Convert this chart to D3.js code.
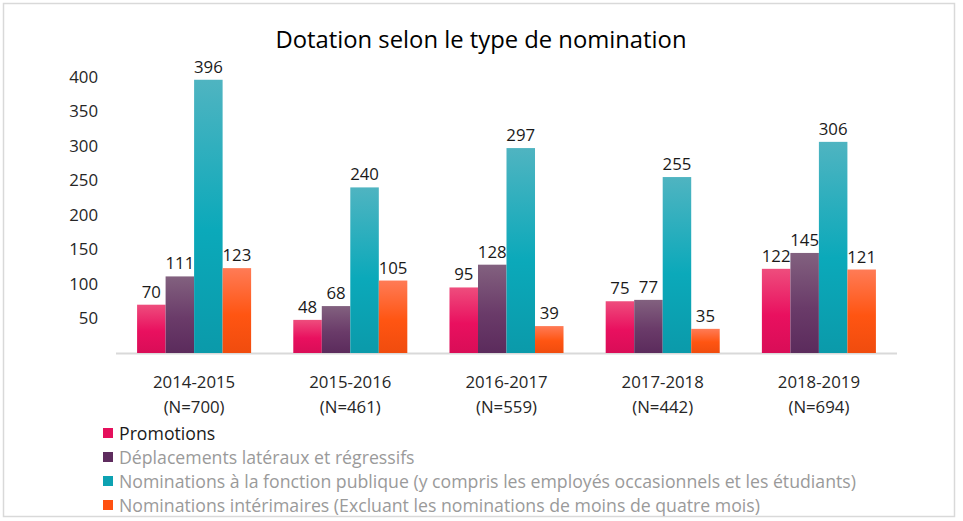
<!DOCTYPE html>
<html>
<head>
<meta charset="utf-8">
<script src="https://cdn.jsdelivr.net/npm/d3@7"></script>
<style>
  body { margin: 0; background: #fff; }
  svg { display: block; font-family: "Open Sans", "Noto Sans", sans-serif; }
</style>
</head>
<body>
<div id="chart"></div>
<script>
// data
var years = ["2014-2015", "2015-2016", "2016-2017", "2017-2018", "2018-2019"];
var totals = ["(N=700)", "(N=461)", "(N=559)", "(N=442)", "(N=694)"];
var series = [
  "Promotions",
  "Déplacements latéraux et régressifs",
  "Nominations à la fonction publique (y compris les employés occasionnels et les étudiants)",
  "Nominations intérimaires (Excluant les nominations de moins de quatre mois)"
];
var promotions = [70, 48, 95, 75, 122];
var deplacements = [111, 68, 128, 77, 145];
var fonctionPublique = [396, 240, 297, 255, 306];
var interimaires = [123, 105, 39, 35, 121];
var yTicks = [50, 100, 150, 200, 250, 300, 350, 400];

var values = [promotions, deplacements, fonctionPublique, interimaires];

// gradient stops per series: top, middle, bottom
var shades = [
  ["#ee4d7d", "#e9105f", "#d90d57"],
  ["#82617f", "#6a3b69", "#5b2b5c"],
  ["#4fb4c1", "#0ba9ba", "#0b9aaa"],
  ["#ff7b56", "#ff5512", "#f04c0e"]
];
var legendSquare = ["#e5105c", "#5e2c5e", "#0da2b2", "#ff5010"];

var width = 963, height = 521;
var margin = {top: 77, left: 116, right: 66, bottom: 168};

var svg = d3.select("#chart").append("svg")
    .attr("width", width)
    .attr("height", height);

// outer frame
svg.append("rect")
    .attr("x", 3.5).attr("y", 3.5)
    .attr("width", 951).attr("height", 513)
    .attr("fill", "#fff")
    .attr("stroke", "#d9d9d9")
    .attr("stroke-width", 1.5);

var defs = svg.append("defs");
shades.forEach(function(s, i) {
  var g = defs.append("linearGradient")
      .attr("id", "grad" + i)
      .attr("x1", 0).attr("y1", 0).attr("x2", 0).attr("y2", 1);
  g.append("stop").attr("offset", "0%").attr("stop-color", s[0]);
  g.append("stop").attr("offset", "55%").attr("stop-color", s[1]);
  g.append("stop").attr("offset", "100%").attr("stop-color", s[2]);
});

var x0 = d3.scaleBand()
    .domain(years)
    .range([margin.left, width - margin.right])
    .paddingInner(0.27)
    .paddingOuter(0.135);

var x1 = d3.scaleBand()
    .domain(d3.range(series.length))
    .range([0, x0.bandwidth()]);

var y = d3.scaleLinear()
    .domain([0, 400])
    .range([353, margin.top]);

// title
svg.append("text")
    .attr("x", 481).attr("y", 48)
    .attr("text-anchor", "middle")
    .style("font-size", "23.8px")
    .style("fill", "#000")
    .text("Dotation selon le type de nomination");

// y axis (labels only)
var yAxis = svg.append("g")
    .attr("transform", "translate(" + (margin.left - 18) + ",0)")
    .call(d3.axisLeft(y).tickValues(yTicks).tickSize(0).tickPadding(0));
yAxis.select(".domain").remove();
yAxis.selectAll("text")
    .style("font-size", "16.8px")
    .style("font-family", "'Open Sans', 'Noto Sans', sans-serif")
    .style("fill", "#262626");

// baseline
svg.append("line")
    .attr("x1", margin.left).attr("x2", width - margin.right)
    .attr("y1", y(0) + 0.5).attr("y2", y(0) + 0.5)
    .attr("stroke", "#d9d9d9")
    .attr("stroke-width", 2);

// bars
var groups = svg.selectAll(".year")
    .data(years)
    .enter().append("g")
    .attr("class", "year")
    .attr("transform", function(d) { return "translate(" + x0(d) + ",0)"; });

groups.selectAll("rect")
    .data(function(d, j) { return values.map(function(v, i) { return {s: i, v: v[j]}; }); })
    .enter().append("rect")
    .attr("x", function(d) { return x1(d.s); })
    .attr("y", function(d) { return y(d.v); })
    .attr("width", x1.bandwidth())
    .attr("height", function(d) { return y(0) - y(d.v); })
    .attr("fill", function(d) { return "url(#grad" + d.s + ")"; });

groups.selectAll(".val")
    .data(function(d, j) { return values.map(function(v, i) { return {s: i, v: v[j]}; }); })
    .enter().append("text")
    .attr("class", "val")
    .attr("x", function(d) { return x1(d.s) + x1.bandwidth() / 2; })
    .attr("y", function(d) { return y(d.v) - 7; })
    .attr("text-anchor", "middle")
    .style("font-size", "16.8px")
    .style("fill", "#1a1a1a")
    .text(function(d) { return d.v; });

// category labels
var cat = svg.selectAll(".cat")
    .data(years)
    .enter().append("text")
    .attr("class", "cat")
    .attr("text-anchor", "middle")
    .style("font-size", "16.8px")
    .style("fill", "#262626");
cat.append("tspan")
    .attr("x", function(d) { return x0(d) + x0.bandwidth() / 2; })
    .attr("y", 388)
    .text(function(d) { return d; });
cat.append("tspan")
    .attr("x", function(d) { return x0(d) + x0.bandwidth() / 2; })
    .attr("y", 413)
    .text(function(d, i) { return totals[i]; });

// legend
var legend = svg.selectAll(".legend")
    .data(series)
    .enter().append("g")
    .attr("class", "legend")
    .attr("transform", function(d, i) { return "translate(103," + (433 + i * 24) + ")"; });

legend.append("rect")
    .attr("x", 0).attr("y", -5)
    .attr("width", 10).attr("height", 10)
    .attr("fill", function(d, i) { return legendSquare[i]; });

legend.append("text")
    .attr("x", 16).attr("y", 6.5)
    .style("font-size", "17.7px")
    .style("fill", function(d, i) { return i == 0 ? "#1a1a1a" : "#9a9a9a"; })
    .text(function(d) { return d; });
</script>
</body>
</html>
